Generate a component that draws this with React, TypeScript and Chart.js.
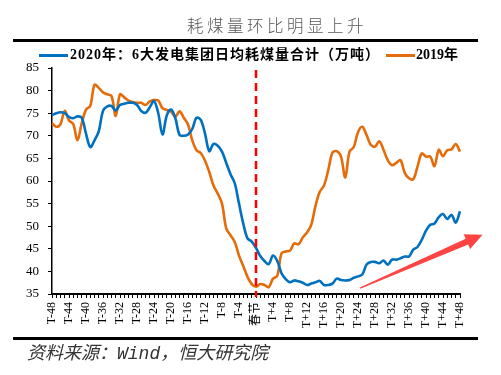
import React, { useEffect, useRef } from "react";
import { Chart, registerables } from "chart.js";

Chart.register(...registerables);

const categories: string[] = Array.from({ length: 97 }, (_, i) =>
  i < 48 ? `T-${48 - i}` : i === 48 ? "春节" : `T+${i - 48}`
);

const series2020: number[] = [
  74.6, 75.0, 75.2, 75.0, 74.2, 73.9, 74.3, 74.0, 70.5, 67.5,
  69.0, 71.0, 75.5, 76.5, 76.6, 75.6, 76.8, 77.1, 77.3, 77.3,
  76.8, 75.5, 75.1, 76.3, 77.7, 75.0, 70.3, 74.5, 75.8, 74.0,
  70.2, 70.0, 70.3, 71.5, 74.0, 73.5, 70.5, 66.6, 68.2, 67.8,
  66.5, 64.0, 61.5, 59.5, 55.0, 50.6, 47.3, 46.6, 45.2, 43.4,
  42.3, 41.6, 43.5, 42.3, 39.6, 38.3, 37.6, 38.0, 37.8, 37.5,
  37.0, 37.3, 37.6, 37.9, 37.0, 37.0, 37.3, 38.4, 38.1, 38.0,
  38.1, 38.6, 38.9, 39.3, 41.5, 42.1, 42.1, 41.8, 42.4, 41.5,
  42.6, 42.6, 42.9, 43.3, 43.3, 44.8, 45.4, 47.0, 49.0, 50.3,
  50.6, 52.0, 52.7, 51.6, 52.5, 50.8, 53.3,
];

const series2019: number[] = [
  72.8, 72.0, 72.6, 75.5, 73.4, 72.6, 69.0, 72.8, 75.8, 76.6,
  81.3, 80.6, 79.6, 79.2, 78.8, 74.4, 79.2, 78.5, 77.8, 77.5,
  77.3, 77.3, 76.8, 77.6, 77.9, 77.8, 76.1, 75.7, 75.4, 74.2,
  75.4, 74.0, 72.5, 69.0, 66.8, 66.2, 64.5, 62.0, 59.0, 57.2,
  55.0, 49.5, 48.0, 46.5, 43.5, 41.2, 38.8, 37.2, 36.6, 37.2,
  37.0, 36.5, 38.4, 39.0, 44.0, 44.4, 44.6, 46.2, 46.0, 47.5,
  48.6, 50.3, 54.5, 57.6, 59.0, 62.4, 66.3, 66.6, 65.4, 60.8,
  66.5, 67.5, 70.8, 72.0, 70.2, 68.0, 67.6, 68.8, 66.9, 64.6,
  63.5, 64.0, 64.6, 61.8, 60.6, 60.4, 63.2, 66.1, 65.4, 65.4,
  63.3, 66.9, 65.5, 66.8, 67.0, 68.2, 66.5,
];

const yMin = 35;
const yMax = 85;
const yStep = 5;
const springFestivalLabel = "春节";
// trend arrow, in data units: [category index, value]
const arrowFrom: [number, number] = [72.5, 36.3];
const arrowTo: [number, number] = [101.3, 48.1];

const titleText = "耗煤量环比明显上升";
const legend2020 = "2020年：6大发电集团日均耗煤量合计（万吨）";
const legend2019 = "2019年";
const sourceText = "资料来源：Wind，恒大研究院";

const BLUE = "#0070C0";
const ORANGE = "#E46C0A";

const overlayPlugin = {
  id: "overlay",
  afterDatasetsDraw(chart: any) {
    const { ctx, chartArea, scales } = chart;
    const xs = scales.x;
    const ys = scales.y;
    const idx = categories.indexOf(springFestivalLabel);
    const px = xs.getPixelForValue(idx);
    ctx.save();
    ctx.strokeStyle = "#FF0000";
    ctx.lineWidth = 2.5;
    ctx.setLineDash([8, 5]);
    ctx.beginPath();
    ctx.moveTo(px, chartArea.top + 2);
    ctx.lineTo(px, chartArea.bottom + 3);
    ctx.stroke();
    ctx.restore();

    const x0 = xs.getPixelForValue(arrowFrom[0]);
    const y0 = ys.getPixelForValue(arrowFrom[1]);
    const x1 = xs.getPixelForValue(arrowTo[0]);
    const y1 = ys.getPixelForValue(arrowTo[1]);
    const dx = x1 - x0;
    const dy = y1 - y0;
    const len = Math.hypot(dx, dy);
    const ux = dx / len;
    const uy = dy / len;
    const nx = -uy;
    const ny = ux;
    const hl = 17;
    const bx = x1 - ux * hl;
    const by = y1 - uy * hl;
    ctx.save();
    ctx.fillStyle = "#FF4343";
    ctx.beginPath();
    ctx.moveTo(x0 + nx * 0.6, y0 + ny * 0.6);
    ctx.lineTo(bx + nx * 3.2, by + ny * 3.2);
    ctx.lineTo(bx + nx * 8, by + ny * 8);
    ctx.lineTo(x1, y1);
    ctx.lineTo(bx - nx * 8, by - ny * 8);
    ctx.lineTo(bx - nx * 3.2, by - ny * 3.2);
    ctx.lineTo(x0 - nx * 0.6, y0 - ny * 0.6);
    ctx.closePath();
    ctx.fill();
    ctx.restore();
  },
};

export default function App() {
  const canvasRef = useRef<HTMLCanvasElement | null>(null);

  useEffect(() => {
    if (!canvasRef.current) return;
    const chart = new Chart(canvasRef.current, {
      type: "line",
      data: {
        labels: categories,
        datasets: [
          {
            label: legend2020,
            data: series2020,
            borderColor: BLUE,
            borderWidth: 2.6,
            pointRadius: 0,
            tension: 0.35,
            fill: false,
          },
          {
            label: legend2019,
            data: series2019,
            borderColor: ORANGE,
            borderWidth: 2.6,
            pointRadius: 0,
            tension: 0.35,
            fill: false,
          },
        ],
      },
      options: {
        responsive: false,
        animation: false,
        devicePixelRatio: 1,
        layout: { padding: { top: 68, right: 41, bottom: 41, left: 0 } },
        plugins: {
          legend: { display: false },
          tooltip: { enabled: false },
          title: { display: false },
        },
        scales: {
          x: {
            type: "category",
            offset: false,
            afterFit: (s: any) => {
              s.height = 40;
            },
            border: { display: true, color: "#000", width: 2 },
            grid: {
              display: true,
              drawOnChartArea: false,
              drawTicks: true,
              tickLength: 4,
              color: "#000",
              lineWidth: 1,
            },
            ticks: {
              autoSkip: false,
              maxRotation: 90,
              minRotation: 90,
              padding: 4,
              color: "#000",
              font: { family: "'Liberation Serif', 'Noto Sans CJK SC'", size: 12 },
              callback: (_v: any, i: number) => (i % 4 === 0 ? categories[i] : ""),
            },
          },
          y: {
            min: yMin,
            max: yMax,
            afterFit: (s: any) => {
              s.width = 52;
            },
            border: { display: true, color: "#000", width: 1.5 },
            grid: {
              display: true,
              drawOnChartArea: false,
              drawTicks: true,
              tickLength: 4,
              color: "#000",
            },
            ticks: {
              stepSize: yStep,
              padding: 9,
              color: "#000",
              font: { family: "'Liberation Serif'", size: 13 },
            },
          },
        },
      },
      plugins: [overlayPlugin],
    } as any);
    return () => chart.destroy();
  }, []);

  const serifCjk = "'Liberation Serif', 'Noto Sans CJK SC', serif";

  return (
    <div
      style={{
        position: "absolute",
        left: 0,
        top: 0,
        width: 501,
        height: 375,
        background: "#fff",
        overflow: "hidden",
      }}
    >
      <canvas
        ref={canvasRef}
        width={501}
        height={375}
        style={{ position: "absolute", left: 0, top: 0, width: 501, height: 375 }}
      />
      <div
        style={{
          position: "absolute",
          left: 187,
          top: 15,
          fontFamily: "'Noto Sans CJK SC', sans-serif",
          fontWeight: 300,
          fontSize: 16.5,
          letterSpacing: 3.5,
          color: "#595959",
          lineHeight: "20px",
          whiteSpace: "nowrap",
        }}
      >
        {titleText}
      </div>
      <div
        style={{
          position: "absolute",
          left: 13,
          top: 39,
          width: 465,
          height: 3,
          background: "#000",
        }}
      />
      <div
        style={{
          position: "absolute",
          left: 39,
          top: 54,
          width: 29,
          height: 2.6,
          background: BLUE,
        }}
      />
      <div
        style={{
          position: "absolute",
          left: 70,
          top: 47,
          fontFamily: serifCjk,
          fontWeight: 700,
          fontSize: 14,
          letterSpacing: 1,
          lineHeight: "16px",
          color: "#000",
          whiteSpace: "nowrap",
        }}
      >
        {legend2020}
      </div>
      <div
        style={{
          position: "absolute",
          left: 386,
          top: 54,
          width: 29,
          height: 2.6,
          background: ORANGE,
        }}
      />
      <div
        style={{
          position: "absolute",
          left: 416,
          top: 47,
          fontFamily: serifCjk,
          fontWeight: 700,
          fontSize: 14,
          lineHeight: "16px",
          color: "#000",
          whiteSpace: "nowrap",
        }}
      >
        {legend2019}
      </div>
      <div
        style={{
          position: "absolute",
          left: 13,
          top: 337,
          width: 465,
          height: 3,
          background: "#000",
        }}
      />
      <div
        style={{
          position: "absolute",
          left: 27,
          top: 343,
          fontFamily: "'Liberation Mono', 'Noto Sans CJK SC', monospace",
          fontStyle: "italic",
          fontSize: 18,
          lineHeight: "22px",
          color: "#333",
          whiteSpace: "nowrap",
        }}
      >
        {sourceText}
      </div>
    </div>
  );
}
